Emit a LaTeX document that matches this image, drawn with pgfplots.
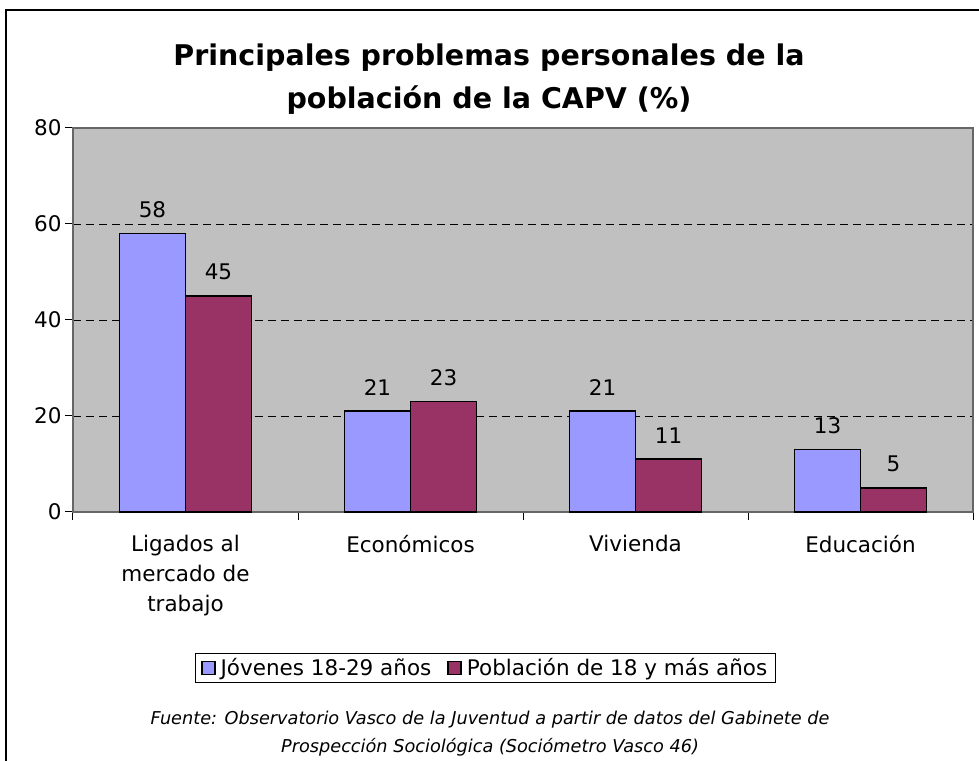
\documentclass[border=0pt]{standalone}
\usepackage{pgfplots}
\pgfplotsset{compat=1.18}
\usepackage{fontspec}
\setmainfont{DejaVu Sans}
\definecolor{barblue}{HTML}{9999FF}
\definecolor{barred}{HTML}{993366}
\definecolor{plotbg}{HTML}{C0C0C0}
\begin{document}
\begin{tikzpicture}
\useasboundingbox (0pt,0pt) rectangle (979pt,760pt);
\draw[line width=2.5pt] (6pt,-10pt) -- (6pt,750pt) -- (990pt,750pt);
\node[font=\bfseries\fontsize{28.5}{43}\selectfont, align=center] at (489pt,681pt) {Principales problemas personales de la\\población de la CAPV (\%)};
\begin{axis}[
  at={(73pt,248pt)}, anchor=south west, scale only axis,
  width=900pt, height=384pt,
  xmin=-0.5, xmax=3.5, ymin=0, ymax=80,
  /pgf/number format/assume math mode=true,
  axis background/.style={fill=plotbg},
  axis line style={draw=gray!80!black, line width=1.2pt},
  ytick={0,20,40,60,80},
  xtick={-0.5,0.5,1.5,2.5,3.5}, xticklabels={},
  extra x ticks={0,1,2,3},
  extra x tick labels={{Ligados al\\mercado de\\trabajo},Económicos,Vivienda,Educación},
  extra x tick style={tick style={draw=none}, xticklabel style={align=center, yshift=-12pt}},
  tick align=outside, tick pos=left, major tick length=8pt,
  tick style={black, line width=1pt},
  ymajorgrids, grid style={black, line width=0.8pt, dash pattern=on 8pt off 5pt},
  tick label style={font=\fontsize{21.5}{30}\selectfont},
  ybar=0pt, bar width=66pt,
  nodes near coords,
  every node near coord/.append style={font=\fontsize{21.5}{24}\selectfont, black, yshift=12pt},
  clip=false,
  legend columns=2,
  legend style={at={(0.458,-0.406)}, anchor=center, draw=black, line width=1pt, fill=white,
    font=\fontsize{21.5}{26}\selectfont, inner xsep=6pt, inner ysep=3pt,
    /tikz/every odd column/.append style={column sep=3pt},
    /tikz/every even column/.append style={column sep=14pt}},
  legend image code/.code={\draw[#1, line width=1.5pt] (0pt,-6.5pt) rectangle (13pt,6.5pt);},
]
\addplot[fill=barblue, draw=black, line width=1.7pt] coordinates {(0,58) (1,21) (2,21) (3,13)};
\addplot[fill=barred, draw=black, line width=1.7pt] coordinates {(0,45) (1,23) (2,11) (3,5)};
\legend{Jóvenes 18-29 años, Población de 18 y más años}
\end{axis}
\node[font=\itshape\fontsize{17.7}{28}\selectfont, align=center] at (490pt,26pt) {Fuente: Observatorio Vasco de la Juventud a partir de datos del Gabinete de\\Prospección Sociológica (Sociómetro Vasco 46)};
\end{tikzpicture}
\end{document}
